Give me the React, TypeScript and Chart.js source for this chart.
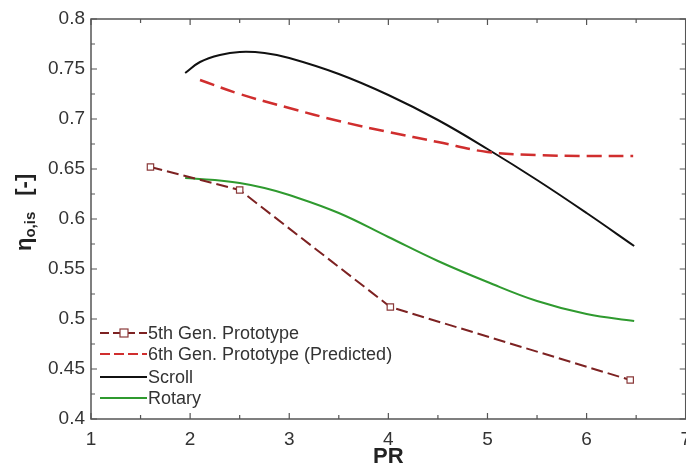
import React, { useEffect, useRef } from "react";
import { Chart, registerables } from "chart.js";

Chart.register(...registerables);

// 5th Gen. Prototype (measured points)
const gen5PR = [1.6, 2.5, 4.02, 6.44];
const gen5Eff = [0.652, 0.629, 0.512, 0.439];

// 6th Gen. Prototype (Predicted)
const gen6PR = [2.1, 2.5, 3.0, 3.5, 4.0, 4.5, 5.0, 5.5, 6.0, 6.47];
const gen6Eff = [0.739, 0.725, 0.711, 0.698, 0.687, 0.677, 0.667, 0.664, 0.663, 0.663];

// Scroll
const scrollPR = [1.95, 2.1, 2.3, 2.5, 2.75, 3.0, 3.5, 4.0, 4.5, 5.0, 5.5, 6.0, 6.48];
const scrollEff = [0.746, 0.757, 0.764, 0.767, 0.766, 0.761, 0.745, 0.724, 0.699, 0.670, 0.639, 0.606, 0.573];

// Rotary
const rotaryPR = [1.95, 2.25, 2.5, 2.75, 3.0, 3.5, 4.0, 4.5, 5.0, 5.5, 6.0, 6.48];
const rotaryEff = [0.641, 0.639, 0.636, 0.631, 0.624, 0.606, 0.582, 0.558, 0.537, 0.518, 0.505, 0.498];

const xMin = 1, xMax = 7;
const yMin = 0.4, yMax = 0.8;
const xMajor = [1, 2, 3, 4, 5, 6, 7];
const xMinor = [1.5, 2.5, 3.5, 4.5, 5.5, 6.5];
const yMajor = [0.4, 0.45, 0.5, 0.55, 0.6, 0.65, 0.7, 0.75, 0.8];
const yMinor = [0.425, 0.475, 0.525, 0.575, 0.625, 0.675, 0.725, 0.775];

const legendLabels = ["5th Gen. Prototype", "6th Gen. Prototype (Predicted)", "Scroll", "Rotary"];

const C5 = "#7d2222";
const C6 = "#d02e2e";
const CS = "#111111";
const CR = "#2f9a2f";

const pts = (xs: number[], ys: number[]) => xs.map((x, i) => ({ x, y: ys[i] }));

const frameAndTicks = {
  id: "frameAndTicks",
  afterDraw(chart: any) {
    const { ctx, chartArea: a, scales } = chart;
    const xs = scales.x, ys = scales.y;
    ctx.save();
    ctx.strokeStyle = "#555";
    ctx.lineWidth = 1.5;
    ctx.strokeRect(a.left, a.top, a.right - a.left, a.bottom - a.top);
    ctx.lineWidth = 1.2;
    const tx = (v: number, len: number) => {
      const p = xs.getPixelForValue(v);
      ctx.beginPath();
      ctx.moveTo(p, a.bottom); ctx.lineTo(p, a.bottom - len);
      ctx.moveTo(p, a.top); ctx.lineTo(p, a.top + len);
      ctx.stroke();
    };
    const ty = (v: number, len: number) => {
      const p = ys.getPixelForValue(v);
      ctx.beginPath();
      ctx.moveTo(a.left, p); ctx.lineTo(a.left + len, p);
      ctx.moveTo(a.right, p); ctx.lineTo(a.right - len, p);
      ctx.stroke();
    };
    xMajor.forEach((v) => tx(v, 6));
    xMinor.forEach((v) => tx(v, 4));
    yMajor.forEach((v) => ty(v, 6));
    yMinor.forEach((v) => ty(v, 4));

    // axis titles
    ctx.fillStyle = "#222";
    ctx.font = "bold 22px 'Liberation Sans', Arial, sans-serif";
    ctx.textAlign = "center";
    ctx.textBaseline = "middle";
    ctx.fillText("PR", (a.left + a.right) / 2, 457);

    ctx.translate(31, 251);
    ctx.rotate(-Math.PI / 2);
    ctx.textAlign = "left";
    ctx.textBaseline = "alphabetic";
    ctx.font = "bold 22px 'Liberation Sans', Arial, sans-serif";
    ctx.fillText("η", 0, 0);
    let w = ctx.measureText("η").width;
    ctx.font = "bold 15px 'Liberation Sans', Arial, sans-serif";
    ctx.fillText("o,is", w, 4);
    w += ctx.measureText("o,is").width + 16;
    ctx.font = "bold 22px 'Liberation Sans', Arial, sans-serif";
    ctx.fillText("[-]", w, 0);
    ctx.restore();

    // legend
    const rows = [333, 354, 377, 398];
    const styles = [
      { c: C5, d: [9, 4], w: 2, m: true },
      { c: C6, d: [10, 4], w: 2, m: false },
      { c: CS, d: [], w: 2, m: false },
      { c: CR, d: [], w: 2, m: false },
    ];
    ctx.save();
    styles.forEach((s, i) => {
      const y = rows[i];
      ctx.strokeStyle = s.c;
      ctx.lineWidth = s.w;
      ctx.setLineDash(s.d);
      ctx.beginPath();
      ctx.moveTo(100, y); ctx.lineTo(147, y);
      ctx.stroke();
      ctx.setLineDash([]);
      if (s.m) {
        ctx.fillStyle = "#fff";
        ctx.strokeStyle = "#8b3a3a";
        ctx.lineWidth = 1.2;
        ctx.fillRect(120, y - 4, 8, 8);
        ctx.strokeRect(120, y - 4, 8, 8);
      }
      ctx.fillStyle = "#333";
      ctx.font = "18px 'Liberation Sans', Arial, sans-serif";
      ctx.textAlign = "left";
      ctx.textBaseline = "middle";
      ctx.fillText(legendLabels[i], 148, y + 1);
    });
    ctx.restore();
  },
};

export default function App() {
  const ref = useRef<HTMLCanvasElement | null>(null);
  useEffect(() => {
    if (!ref.current) return;
    const chart = new Chart(ref.current, {
      type: "line",
      data: {
        datasets: [
          {
            label: legendLabels[0],
            data: pts(gen5PR, gen5Eff),
            borderColor: C5,
            borderWidth: 2,
            borderDash: [12, 5],
            tension: 0,
            pointStyle: "rect",
            pointRadius: 4.5,
            pointBackgroundColor: "#fff",
            pointBorderColor: "#8b3a3a",
            pointBorderWidth: 1.2,
          },
          {
            label: legendLabels[1],
            data: pts(gen6PR, gen6Eff),
            borderColor: C6,
            borderWidth: 2.5,
            borderDash: [15, 7],
            tension: 0.4,
            pointRadius: 0,
          },
          {
            label: legendLabels[2],
            data: pts(scrollPR, scrollEff),
            borderColor: CS,
            borderWidth: 2,
            tension: 0.4,
            pointRadius: 0,
          },
          {
            label: legendLabels[3],
            data: pts(rotaryPR, rotaryEff),
            borderColor: CR,
            borderWidth: 2,
            tension: 0.4,
            pointRadius: 0,
          },
        ],
      },
      options: {
        animation: false,
        responsive: false,
        devicePixelRatio: 1,
        layout: { padding: { top: 19, right: 13, left: 0, bottom: 0 } },
        plugins: { legend: { display: false }, tooltip: { enabled: false } },
        scales: {
          x: {
            type: "linear",
            min: xMin,
            max: xMax,
            grid: { display: false, drawTicks: false },
            border: { display: false },
            ticks: {
              stepSize: 1,
              padding: 9,
              color: "#333",
              font: { size: 19, family: "'Liberation Sans', Arial, sans-serif" },
              maxRotation: 0,
            },
            afterFit: (s: any) => { s.height = 49; },
          },
          y: {
            type: "linear",
            min: yMin,
            max: yMax,
            grid: { display: false, drawTicks: false },
            border: { display: false },
            ticks: {
              stepSize: 0.05,
              padding: 6,
              color: "#333",
              font: { size: 19, family: "'Liberation Sans', Arial, sans-serif" },
              callback: (v: any) => String(Math.round(Number(v) * 100) / 100),
            },
            afterFit: (s: any) => { s.width = 91; },
          },
        },
      },
      plugins: [frameAndTicks],
    });
    return () => chart.destroy();
  }, []);
  return (
    <div style={{ position: "fixed", left: 0, top: 0, width: 686, height: 468, overflow: "hidden", background: "#fff" }}>
      <canvas ref={ref} width={700} height={468} style={{ display: "block" }} />
    </div>
  );
}
